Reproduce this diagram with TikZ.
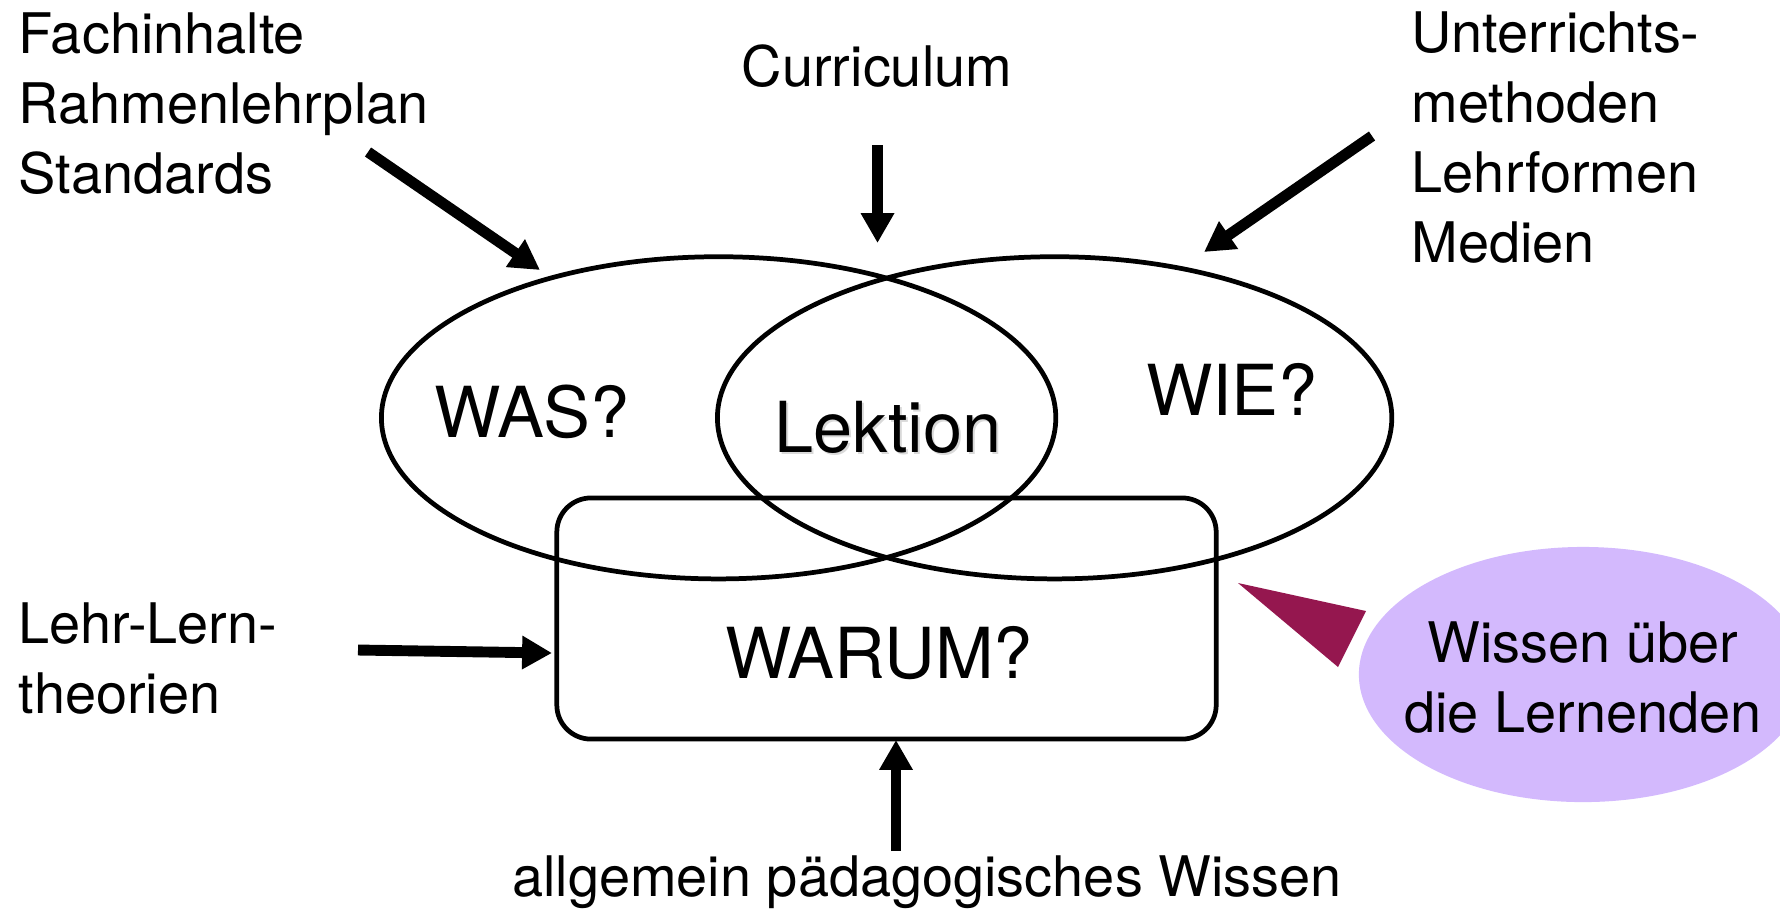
\documentclass[tikz,border=0pt]{standalone}
\usepackage{fontspec}
\setmainfont{TeX Gyre Heros}
\usetikzlibrary{shapes.geometric,arrows.meta}
\definecolor{lav}{HTML}{D3B9FD}
\definecolor{mag}{HTML}{95174F}
\begin{document}
\begin{tikzpicture}[x=0.01cm,y=-0.01cm,
  lbl/.style={font=\fontsize{15.9}{19.9}\selectfont, inner sep=0, align=left},
  big/.style={font=\fontsize{20}{24}\selectfont, inner sep=0},
  ring/.style={draw, line width=1.35pt, ellipse, minimum width=6.74cm, minimum height=3.22cm, inner sep=0},
  fatarrow/.style={line width=3.1pt, -{Triangle[length=8.5pt,width=9pt]}}]
\useasboundingbox (0,0) rectangle (1780,914);
\clip (0,0) rectangle (1780,914);

% shapes
\node[ring] (left) at (718.6,417.8) {};
\node[ring] (right) at (1054.6,417.8) {};
\node[draw, line width=1.35pt, rounded corners=9.7pt, minimum width=6.59cm, minimum height=2.41cm, inner sep=0] (warumbox) at (886.5,618.5) {};
\node[ellipse, fill=lav, minimum width=4.48cm, minimum height=2.55cm, inner sep=0] (wissenbg) at (1583,674.5) {};
\fill[mag] (1238,583) -- (1366,611) -- (1338,667) -- cycle;

% big labels
\node[big, anchor=base] (was) at (532,437) {WAS?};
\node[big, anchor=base, text=black!15] (lekshadow) at (890,454) {Lektion};
\node[big, anchor=base] (lek) at (888,452) {Lektion};
\node[big, anchor=base] (wie) at (1232,415) {WIE?};
\node[big, anchor=base] (warum) at (879,678) {WARUM?};

% small labels (base = baseline of the last line)
\node[lbl, anchor=base west] (fach) at (18,193) {Fachinhalte\\Rahmenlehrplan\\Standards};
\node[lbl, anchor=base] (curr) at (877,86) {Curriculum};
\node[lbl, anchor=base west] (unt) at (1411,262) {Unterrichts-\\methoden\\Lehrformen\\Medien};
\node[lbl, anchor=base west] (lehr) at (18,713) {Lehr-Lern-\\theorien};
\node[lbl, anchor=base] (allg) at (927,896) {allgemein pädagogisches Wissen};
\node[lbl, anchor=base, align=center] (wissen) at (1583,732) {Wissen über\\die Lernenden};

% arrows
\coordinate (a1s) at (368,152); \coordinate (a1e) at (540,270);
\coordinate (a2s) at (877.5,145); \coordinate (a2e) at (877.5,243);
\coordinate (a3s) at (1372,136); \coordinate (a3e) at (1204,252);
\coordinate (a4s) at (358,650); \coordinate (a4e) at (552,653);
\coordinate (a5s) at (896,851); \coordinate (a5e) at (896,740);
\draw[fatarrow] (a1s) -- (a1e);
\draw[fatarrow] (a2s) -- (a2e);
\draw[fatarrow] (a3s) -- (a3e);
\draw[fatarrow] (a4s) -- (a4e);
\draw[fatarrow] (a5s) -- (a5e);
\end{tikzpicture}
\end{document}
